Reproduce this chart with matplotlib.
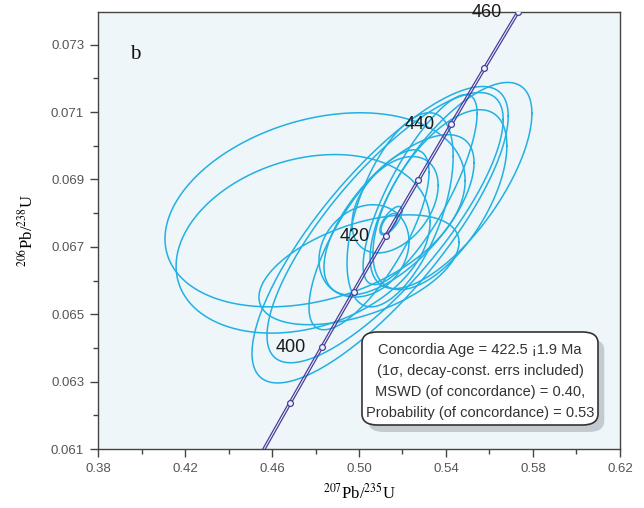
import numpy as np
import matplotlib
matplotlib.use("Agg")
import matplotlib.pyplot as plt
from matplotlib.patches import FancyBboxPatch
from matplotlib.ticker import MultipleLocator, FixedLocator

plt.rcParams['font.family'] = ['Liberation Sans', 'DejaVu Sans']
plt.rcParams['mathtext.fontset'] = 'stix'

# ---- data: error ellipses (centre, half-extents, correlation) ----
ell_x   = [0.4798, 0.4743, 0.5097, 0.5120, 0.5423, 0.5281, 0.5189, 0.5372,
           0.5023, 0.5166, 0.5147, 0.5138, 0.5000, 0.5046, 0.5184]
ell_y   = [0.06810, 0.06709, 0.06736, 0.06757, 0.06882, 0.06870, 0.06810, 0.06840,
           0.06688, 0.06825, 0.06778, 0.06769, 0.06632, 0.06721, 0.06795]
ell_sx  = [0.0690, 0.0584, 0.0589, 0.0543, 0.0372, 0.0262, 0.0244, 0.0308,
           0.0207, 0.0198, 0.0051, 0.0037, 0.0460, 0.0276, 0.0345]
ell_sy  = [0.00288, 0.00265, 0.00440, 0.00401, 0.00306, 0.00282, 0.00288, 0.00267,
           0.00137, 0.00143, 0.00042, 0.00030, 0.00163, 0.00267, 0.00238]
ell_rho = [0.30, 0.25, 0.80, 0.80, 0.70, 0.80, 0.55, 0.60,
           0.20, 0.40, 0.70, 0.60, 0.50, 0.75, 0.65]

# ---- concordia ----
conc_ages = [380, 390, 400, 410, 420, 430, 440, 450, 460, 470, 480]   # Ma
label_ages = [400, 420, 440, 460]
lam238 = 1.55125e-4   # per Ma
lam235 = 9.8485e-4    # per Ma

xticks = [0.38, 0.42, 0.46, 0.50, 0.54, 0.58, 0.62]
yticks = [0.061, 0.063, 0.065, 0.067, 0.069, 0.071, 0.073]

box_lines = ["Concordia Age = 422.5 \u00a11.9 Ma",
             "(1\u03c3, decay-const. errs included)",
             "MSWD (of concordance) = 0.40,",
             "Probability (of concordance) = 0.53"]

fig = plt.figure(figsize=(6.44, 5.08), dpi=100)
ax = fig.add_axes([0.1522, 0.1161, 0.8105, 0.8609])
ax.set_facecolor('#eef6fa')
ax.set_xlim(0.38, 0.62)
ax.set_ylim(0.061, 0.07398)

ell_color = '#22b0e2'
t = np.linspace(0, 2 * np.pi, 300)
for cx, cy, sx, sy, r in zip(ell_x, ell_y, ell_sx, ell_sy, ell_rho):
    xs = cx + sx * np.cos(t)
    ys = cy + sy * (r * np.cos(t) + np.sqrt(1 - r * r) * np.sin(t))
    ax.plot(xs, ys, color=ell_color, lw=1.1, zorder=2)

ages_fine = np.linspace(conc_ages[0], conc_ages[-1], 400)
cx_f = np.exp(lam235 * ages_fine) - 1
cy_f = np.exp(lam238 * ages_fine) - 1
cc = '#4b3c9c'
for off in (-0.0006, 0.0006):
    ax.plot(cx_f + off, cy_f, color=cc, lw=0.9, zorder=3)
ages_m = np.array(conc_ages, dtype=float)
mx = np.exp(lam235 * ages_m) - 1
my = np.exp(lam238 * ages_m) - 1
ax.plot(mx, my, 'o', ms=4.2, mfc='#eef6fa', mec=cc, mew=0.9, zorder=4, ls='none')

for a in label_ages:
    px = np.exp(lam235 * a) - 1
    py = np.exp(lam238 * a) - 1
    ax.annotate(str(a), (px, py), xytext=(-16, 0), textcoords='offset pixels',
                ha='right', va='center', fontsize=13, color='#1a1a1a',
                annotation_clip=False, zorder=6)

# ticks
ax.xaxis.set_major_locator(FixedLocator(xticks))
ax.yaxis.set_major_locator(FixedLocator(yticks))
ax.xaxis.set_minor_locator(MultipleLocator(0.02))
ax.yaxis.set_minor_locator(MultipleLocator(0.001))
ax.set_xticklabels([f"{v:.2f}" for v in xticks])
ax.set_yticklabels([f"{v:.3f}" for v in yticks])
ax.tick_params(which='major', direction='out', length=6, width=1, color='#444444',
               labelsize=9.5, labelcolor='#555555', pad=4)
ax.tick_params(which='minor', direction='out', length=3.5, width=1, color='#444444')
for s in ax.spines.values():
    s.set_color('#444444')
    s.set_linewidth(1.0)

ax.set_xlabel(r'$^{207}$Pb/$^{235}$U', family='Liberation Serif', fontsize=12, labelpad=6)
ax.set_ylabel(r'$^{206}$Pb/$^{238}$U', family='Liberation Serif', fontsize=12, labelpad=10)

ax.text(0.071, 0.902, 'b', transform=ax.transAxes, family='Liberation Serif',
        fontsize=15, ha='center', va='center', color='#111111')

# text box with shadow
bx0, by0, bw, bh = 0.5057, 0.0549, 0.4522, 0.2127
shadow = FancyBboxPatch((bx0 + 0.012, by0 - 0.016), bw, bh,
                        boxstyle='round,pad=0,rounding_size=0.03',
                        transform=ax.transAxes, fc='#9aa0a8', ec='none',
                        alpha=0.5, zorder=7, mutation_aspect=0.85)
ax.add_patch(shadow)
box = FancyBboxPatch((bx0, by0), bw, bh, boxstyle='round,pad=0,rounding_size=0.03',
                     transform=ax.transAxes, fc='white', ec='#333333', lw=1.2,
                     zorder=8, mutation_aspect=0.85)
ax.add_patch(box)
for i, line in enumerate(box_lines):
    ax.text(0.7318, 0.2264 - i * 0.0480, line, transform=ax.transAxes,
            ha='center', va='center', fontsize=10.5, color='#333333', zorder=9)

fig.savefig('out.png', dpi=100)
